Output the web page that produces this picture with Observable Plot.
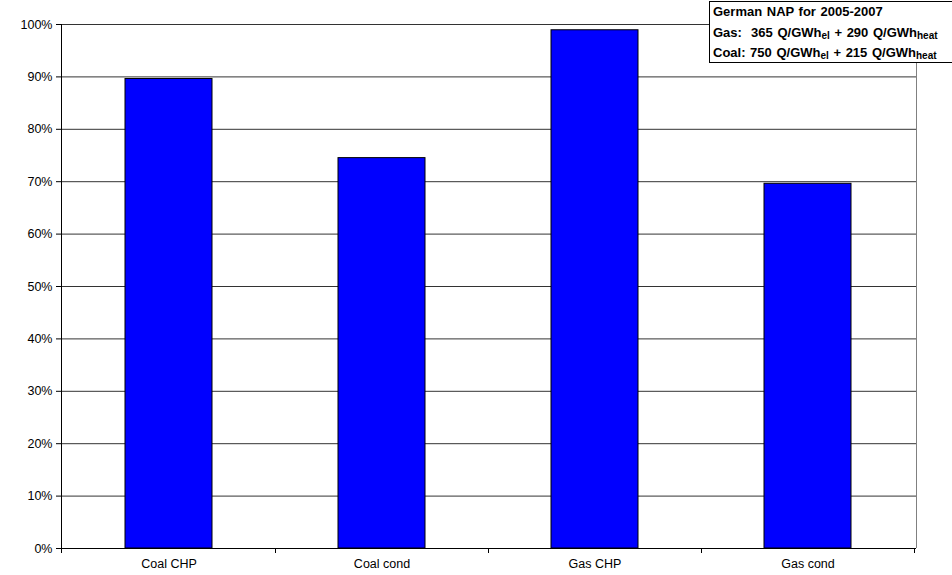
<!DOCTYPE html>
<html>
<head>
<meta charset="utf-8">
<script src="https://cdn.jsdelivr.net/npm/d3@7"></script>
<script src="https://cdn.jsdelivr.net/npm/@observablehq/plot@0.6"></script>
<style>
  html, body { margin: 0; padding: 0; background: #fff; overflow: hidden; }
  #wrap { position: relative; width: 952px; height: 575px; overflow: hidden; }
  #note {
    position: absolute; left: 709px; top: 1px; width: 250px; height: 62px;
    border: 1px solid #000; background: #fff;
    font-family: "Liberation Sans", Arial, sans-serif; font-weight: bold; font-size: 13px;
    line-height: 20.5px; padding: 0 0 0 3px; box-sizing: border-box; color: #000; white-space: nowrap;
    word-spacing: 1px;
  }
  #note sub { font-size: 10px; vertical-align: -2px; line-height: 0; }
</style>
</head>
<body>
<div id="wrap"></div>
<script>
const categories = ["Coal CHP", "Coal cond", "Gas CHP", "Gas cond"];
const values = [0.896, 0.745, 0.989, 0.696];
const yTicks = [0, 0.1, 0.2, 0.3, 0.4, 0.5, 0.6, 0.7, 0.8, 0.9, 1.0];
const noteTitle = "German NAP for 2005-2007";
const noteLines = [
  ["Gas:\u00a0 365 Q/GWh", "el", " + 290 Q/GWh", "heat"],
  ["Coal: 750 Q/GWh", "el", " + 215 Q/GWh", "heat"]
];

const data = categories.map((c, i) => ({category: c, value: values[i]}));
const fmt = d3.format(".0%");

const plot = Plot.plot({
  width: 952,
  height: 575,
  marginLeft: 61,
  marginRight: 36,
  marginTop: 24,
  marginBottom: 27,
  style: {fontFamily: "'Liberation Sans', Arial, sans-serif", fontSize: "12px", color: "#000", background: "#fff", overflow: "visible"},
  x: {domain: categories, paddingInner: 0.59, paddingOuter: 0.3, label: null},
  y: {domain: [0, 1], label: null},
  marks: [
    Plot.gridY(yTicks, {stroke: "#333", strokeOpacity: 1}),
    Plot.barY(data, {x: "category", y: "value", fill: "#0000ff", stroke: "#000", strokeWidth: 1}),
    Plot.axisY(yTicks, {tickSize: 5, tickPadding: 4, tickFormat: fmt, fontSize: 12.5}),
    Plot.axisX({tickSize: 0, tickPadding: 11, fontSize: 12.5}),
    Plot.ruleY([0], {stroke: "#000"})
  ]
});

// axis lines, plot border and category boundary ticks from the library's scales
const xs = plot.scale("x");
const ys = plot.scale("y");
const y0 = ys.apply(0), y1 = ys.apply(1);
const left = xs.range[0], right = xs.range[1];
const svg = d3.select(plot);
const g = svg.append("g");
g.append("line").attr("x1", right + 0.5).attr("x2", right + 0.5).attr("y1", y1).attr("y2", y0)
  .attr("stroke", "#808080");
g.append("line").attr("x1", left + 0.5).attr("x2", left + 0.5).attr("y1", y1).attr("y2", y0 + 5)
  .attr("stroke", "#000");
categories.forEach((c, i) => {
  const bx = xs.apply(c) + xs.bandwidth / 2 + xs.step / 2;
  g.append("line").attr("x1", Math.round(bx) + 0.5).attr("x2", Math.round(bx) + 0.5)
    .attr("y1", y0).attr("y2", y0 + 5).attr("stroke", "#000");
});

const wrap = document.getElementById("wrap");
wrap.appendChild(plot);

const note = document.createElement("div");
note.id = "note";
const t = document.createElement("div");
t.textContent = noteTitle;
note.appendChild(t);
noteLines.forEach(parts => {
  const d = document.createElement("div");
  parts.forEach((p, i) => {
    if (i % 2 === 1) {
      const s = document.createElement("sub");
      s.textContent = p;
      d.appendChild(s);
    } else {
      d.appendChild(document.createTextNode(p));
    }
  });
  note.appendChild(d);
});
wrap.appendChild(note);
</script>
</body>
</html>
